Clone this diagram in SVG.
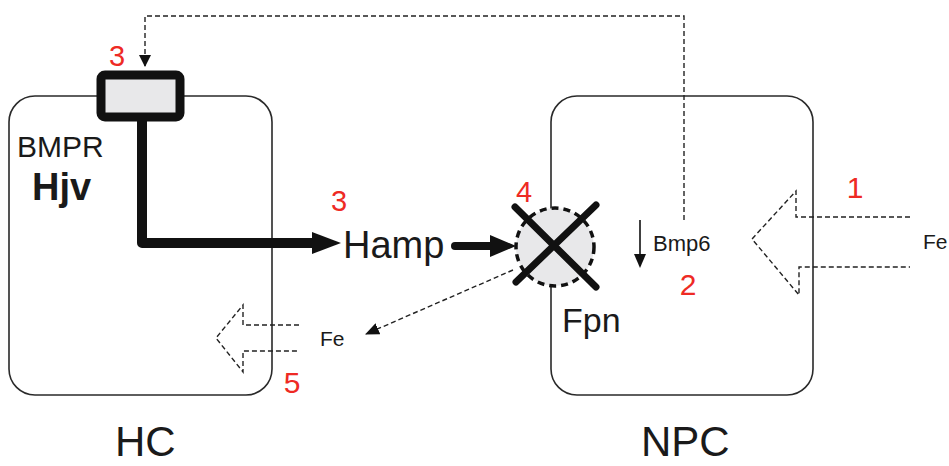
<svg xmlns="http://www.w3.org/2000/svg" width="949" height="466" viewBox="0 0 949 466">
<style>
text{font-family:"Liberation Sans",Arial,sans-serif;fill:#1a1a1a}
.red{fill:#ee2a24}
.cell{fill:none;stroke:#2a2a2a;stroke-width:1.6}
.dash{fill:none;stroke:#222;stroke-width:1.4;stroke-dasharray:5,3}
</style>
<defs>
<marker id="ah" markerWidth="12" markerHeight="12" refX="11" refY="6" orient="auto" markerUnits="userSpaceOnUse"><path d="M0,0L12,6L0,12z" fill="#111"/></marker>
<marker id="ahs" markerWidth="14" markerHeight="12" refX="13" refY="6" orient="auto" markerUnits="userSpaceOnUse"><path d="M0,0L14,6L0,12z" fill="#111"/></marker>
</defs>
<g id="HC">
<rect class="cell" x="9" y="96" width="263" height="299" rx="26"/>
<text x="115" y="456" font-size="42">HC</text>
</g>
<g id="NPC">
<rect class="cell" x="551" y="96" width="262" height="299" rx="26"/>
<text x="641" y="456" font-size="42">NPC</text>
</g>
<g id="BMPR">
<rect x="101" y="75" width="79" height="42" rx="4" fill="#e8e8ea" stroke="#111" stroke-width="9"/>
<text x="17" y="157" font-size="30">BMPR</text>
<text x="32" y="200" font-size="38" font-weight="bold">Hjv</text>
<text class="red" x="117" y="66" font-size="29" text-anchor="middle">3</text>
</g>
<g id="Hamp">
<text x="343" y="258" font-size="38">Hamp</text>
<text class="red" x="339" y="211" font-size="29" text-anchor="middle">3</text>
</g>
<g id="Fpn">
<circle cx="555" cy="247" r="39" fill="#e8e8ea" stroke="#111" stroke-width="3.5" stroke-dasharray="7,5"/>
<path d="M515,207L596,287M596,205L516,282" stroke="#111" stroke-width="7" stroke-linecap="round"/>
<text x="562" y="332" font-size="34">Fpn</text>
<text class="red" x="524" y="202" font-size="29" text-anchor="middle">4</text>
</g>
<g id="Bmp6">
<text x="653" y="251" font-size="22">Bmp6</text>
<text class="red" x="688" y="295" font-size="30" text-anchor="middle">2</text>
</g>
<g id="FeIn">
<path class="dash" d="M910,217H796V191L752,239L799,295V267H910"/>
<text x="923" y="249" font-size="21">Fe</text>
<text class="red" x="855" y="198" font-size="30" text-anchor="middle">1</text>
</g>
<g id="FeOut">
<path class="dash" d="M299,325H243V305L216,338L243,372V351H299"/>
<text x="320" y="346" font-size="21">Fe</text>
<text class="red" x="292" y="393" font-size="30" text-anchor="middle">5</text>
</g>
<g id="connectors">
<path d="M142,117V243H318" fill="none" stroke="#111" stroke-width="10" stroke-linejoin="round"/>
<path d="M312,232L341,243L312,254z" fill="#111"/>
<path d="M455,246H492" stroke="#111" stroke-width="8" stroke-linecap="round"/>
<path d="M490,235L516,246L490,257z" fill="#111"/>
<path class="dash" d="M684,220V16H145V66" marker-end="url(#ah)"/>
<path d="M640,220V256" stroke="#111" stroke-width="1.6"/>
<path d="M634,254L646,254L640,268z" fill="#111"/>
<path class="dash" d="M513,270L366,334" marker-end="url(#ahs)"/>
</g>
</svg>
